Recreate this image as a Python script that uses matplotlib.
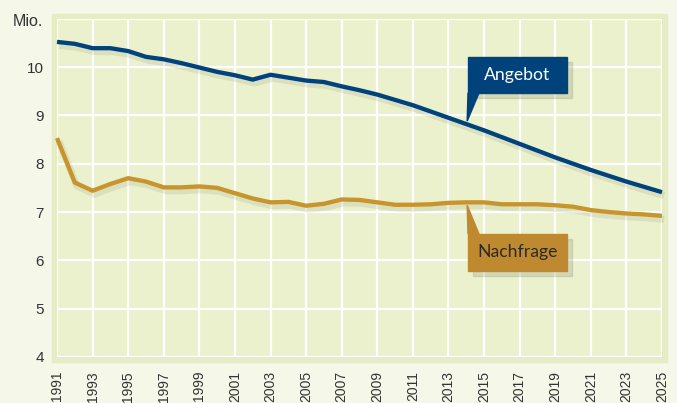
import numpy as np
import matplotlib
matplotlib.use("Agg")
import matplotlib.pyplot as plt
import matplotlib.patheffects as pe
from matplotlib.patches import Rectangle, Polygon

# values (Mio.)
years = list(range(1991, 2026))
angebot = [10.52, 10.48, 10.39, 10.39, 10.33, 10.21, 10.16, 10.08, 9.99, 9.90,
           9.83, 9.74, 9.84, 9.78, 9.72, 9.69, 9.60, 9.52, 9.43, 9.32,
           9.21, 9.08, 8.95, 8.82, 8.69, 8.55, 8.41, 8.27, 8.13, 8.00,
           7.87, 7.75, 7.63, 7.52, 7.41]
nachfrage = [8.53, 7.61, 7.44, 7.58, 7.70, 7.63, 7.51, 7.51, 7.53, 7.50,
             7.39, 7.28, 7.20, 7.21, 7.13, 7.17, 7.26, 7.25, 7.20, 7.15,
             7.15, 7.16, 7.19, 7.20, 7.20, 7.16, 7.16, 7.16, 7.14, 7.11,
             7.04, 7.00, 6.97, 6.95, 6.92]
yticks = [4, 5, 6, 7, 8, 9, 10]
xticks = list(range(1991, 2026, 2))

blue = "#00437c"
gold = "#c8952c"
tick_font = ['Liberation Sans', 'DejaVu Sans']
label_font = ['Lato', 'DejaVu Sans']
plt.rcParams['font.family'] = tick_font

fig = plt.figure(figsize=(6.77, 4.03), dpi=100, facecolor="#f5f7e9")
W, H = 677, 403
ax = fig.add_axes([57 / W, 1 - 357 / H, (662 - 57) / W, (357 - 18.7) / H])

# light frame around the plot area (behind the axes)
fig.patches.append(Rectangle((52 / W, 1 - 362 / H), 615 / W, 348 / H,
                             transform=fig.transFigure, color="#e6ecc6", zorder=-1))

ax.set_facecolor("#ebf1cd")
ax.set_xlim(1991, 2025)
ax.set_ylim(4, 11)
ax.set_xticks(xticks)
ax.set_xticklabels([str(x) for x in xticks], rotation=90, fontsize=10, color="#333333")
ax.set_yticks(yticks + [11])
ax.set_yticklabels([str(y) for y in yticks] + [""], fontsize=11, color="#333333")
ax.tick_params(axis="x", length=0, pad=10)
ax.tick_params(axis="y", length=0, pad=9.5)
ax.grid(True, color="white", lw=1.6)
for s in ax.spines.values():
    s.set_visible(False)

shadow = [pe.SimpleLineShadow(offset=(1.5, -2.5), shadow_color="#8f9478", alpha=0.18, linewidth=5),
          pe.Normal()]
ax.plot(years, angebot, color=blue, lw=3.1, solid_capstyle="butt",
        path_effects=shadow, zorder=3, clip_on=False)
ax.plot(years, nachfrage, color=gold, lw=3.1, solid_capstyle="butt",
        path_effects=shadow, zorder=3, clip_on=False)

fig.text(13 / W, 1 - 21 / H, "Mio.", fontsize=11.5, color="#333333", va="center")


def px(x, y):
    # pixel coords (top-left origin) -> figure fraction
    return (x / W, 1 - y / H)


def callout(x0, y0, x1, y1, tip_year, tip_val, color, txt, tcolor, up):
    sh = Rectangle(px(x0 + 5, y1 + 5), (x1 - x0) / W, (y1 - y0) / H,
                   transform=fig.transFigure, color="#8a8f70", alpha=0.25, zorder=4)
    fig.patches.append(sh)
    box = Rectangle(px(x0, y1), (x1 - x0) / W, (y1 - y0) / H,
                    transform=fig.transFigure, color=color, zorder=5)
    fig.patches.append(box)
    tip = fig.transFigure.inverted().transform(ax.transData.transform((tip_year, tip_val)))
    base_y = y1 if up else y0
    tri = Polygon([px(x0, base_y), px(x0 + 11, base_y), tuple(tip)], closed=True,
                  transform=fig.transFigure, color=color, zorder=5)
    fig.patches.append(tri)
    fig.text((x0 + x1) / 2 / W, 1 - (y0 + y1) / 2 / H, txt, color=tcolor, fontsize=12.7,
             family=label_font, ha="center", va="center", zorder=6)


callout(468, 57, 567, 93, 2014.05, 8.88, blue, "Angebot", "white", True)
callout(468, 234, 567, 271, 2014.05, 7.14, "#bf8a2f", "Nachfrage", "#2a2a2a", False)

fig.savefig("out.png", dpi=100, facecolor=fig.get_facecolor())
